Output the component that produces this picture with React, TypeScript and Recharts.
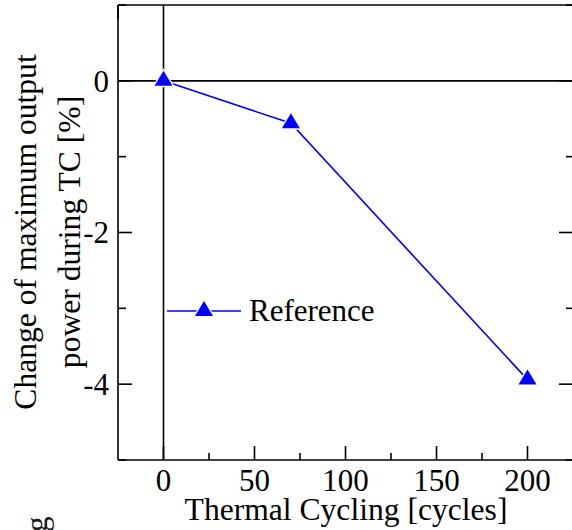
import React from 'react';
import { LineChart, Line, XAxis, YAxis, ReferenceLine, Legend, Label } from 'recharts';

const cycles = [0, 70, 200];
const powerChange = [0, -0.56, -3.94];
const seriesName = 'Reference';
const xMajorTicks = [0, 50, 100, 150, 200];
const xMinorTicks = [25, 75, 125, 175];
const yMajorTicks = [0, -2, -4];
const yMinorTicks = [1, -1, -3, -5];
const xTitle = 'Thermal Cycling [cycles]';
const yTitleLines = ['Change of maximum output', 'power during TC [%]'];
const strayFragment = 'g';

const data = cycles.map((c, i) => ({ cycles: c, change: powerChange[i] }));
const xTicks = [...xMajorTicks, ...xMinorTicks].sort((a, b) => a - b);
const yTicks = [...yMajorTicks, ...yMinorTicks].sort((a, b) => a - b);

const FONT = '"Liberation Serif", "Times New Roman", serif';
const FS = 31;
const TFS = 31.6;
const BLUE = '#0000ff';
const SW = 1.6;

const Tri = ({ cx, cy }: any) => {
  if (cx == null || cy == null) return null;
  return (
    <g>
      <path d={`M${cx},${cy - 12.5} L${cx + 11.5},${cy + 6.5} L${cx - 11.5},${cy + 6.5}Z`} fill="#fff" />
      <path d={`M${cx},${cy - 10} L${cx + 9},${cy + 5} L${cx - 9},${cy + 5}Z`} fill={BLUE} />
    </g>
  );
};

const BottomTick = ({ x, y, payload }: any) => {
  const major = xMajorTicks.includes(payload.value);
  return (
    <g>
      <line x1={x} x2={x} y1={y} y2={y - (major ? 14 : 7)} stroke="#000" strokeWidth={SW} />
      {major && (
        <text x={x} y={y + 31} textAnchor="middle" fontFamily={FONT} fontSize={FS} fill="#000">
          {String(payload.value)}
        </text>
      )}
    </g>
  );
};

const TopTick = ({ x, y, payload }: any) => {
  const major = xMajorTicks.includes(payload.value);
  return <line x1={x} x2={x} y1={y} y2={y + (major ? 14 : 7)} stroke="#000" strokeWidth={SW} />;
};

const LeftTick = ({ x, y, payload }: any) => {
  const major = yMajorTicks.includes(payload.value);
  return (
    <g>
      <line x1={x} x2={x + (major ? 14 : 8)} y1={y} y2={y} stroke="#000" strokeWidth={SW} />
      {major && (
        <text x={x - 9} y={y} dy="0.35em" textAnchor="end" fontFamily={FONT} fontSize={FS} fill="#000">
          {String(payload.value)}
        </text>
      )}
    </g>
  );
};

const RightTick = ({ x, y, payload }: any) => {
  const major = yMajorTicks.includes(payload.value);
  return <line x1={x} x2={x - (major ? 14 : 7)} y1={y} y2={y} stroke="#000" strokeWidth={SW} />;
};

const LegendContent = () => (
  <svg width={240} height={40} style={{ display: 'block', overflow: 'visible' }}>
    <line x1={7} x2={81} y1={21} y2={21} stroke={BLUE} strokeWidth={SW} />
    <Tri cx={44} cy={21} />
    <text x={89} y={31} fontFamily={FONT} fontSize={FS} fill="#000">
      {seriesName}
    </text>
  </svg>
);

const YTitle = () => (
  <g>
    <text
      x={36}
      y={232}
      transform="rotate(-90, 36, 232)"
      textAnchor="middle"
      fontFamily={FONT}
      fontSize={TFS}
      fill="#000"
    >
      {yTitleLines[0]}
    </text>
    <text
      x={80}
      y={232}
      transform="rotate(-90, 80, 232)"
      textAnchor="middle"
      fontFamily={FONT}
      fontSize={TFS}
      fill="#000"
    >
      {yTitleLines[1]}
    </text>
    <text x={47} y={532} transform="rotate(-90, 47, 532)" fontFamily={FONT} fontSize={FS} fill="#1a1a1a">
      {strayFragment}
    </text>
  </g>
);

const XTitle = () => (
  <text x={346} y={520} textAnchor="middle" fontFamily={FONT} fontSize={TFS} fill="#000">
    {xTitle}
  </text>
);

export default function App() {
  return (
    <div
      style={{
        position: 'absolute',
        left: 0,
        top: 0,
        width: 572,
        height: 530,
        overflow: 'hidden',
        background: '#fff',
      }}
    >
      <LineChart width={580} height={530} data={data} margin={{ top: 0, right: 0, bottom: 0, left: 0 }}>
        <XAxis
          xAxisId="b"
          dataKey="cycles"
          type="number"
          domain={[-25, 225]}
          ticks={xTicks}
          interval={0}
          height={70}
          tickSize={0}
          tickMargin={0}
          tickLine={false}
          tick={<BottomTick />}
          axisLine={{ stroke: '#000', strokeWidth: SW }}
          allowDataOverflow
        >
          <Label content={<XTitle />} />
        </XAxis>
        <XAxis
          xAxisId="t"
          orientation="top"
          type="number"
          domain={[-25, 225]}
          ticks={xTicks}
          interval={0}
          height={5}
          tickSize={0}
          tickMargin={0}
          tickLine={false}
          tick={<TopTick />}
          axisLine={{ stroke: '#000', strokeWidth: SW }}
          allowDataOverflow
        />
        <YAxis
          yAxisId="l"
          type="number"
          domain={[-5, 1]}
          ticks={yTicks}
          interval={0}
          width={118}
          tickSize={0}
          tickMargin={0}
          tickLine={false}
          tick={<LeftTick />}
          axisLine={{ stroke: '#000', strokeWidth: SW }}
          allowDataOverflow
        >
          <Label content={<YTitle />} />
        </YAxis>
        <YAxis
          yAxisId="r"
          orientation="right"
          type="number"
          domain={[-5, 1]}
          ticks={yTicks}
          interval={0}
          width={7}
          tickSize={0}
          tickMargin={0}
          tickLine={false}
          tick={<RightTick />}
          axisLine={{ stroke: '#000', strokeWidth: SW }}
          allowDataOverflow
        />
        <ReferenceLine xAxisId="b" yAxisId="l" x={0} stroke="#000" strokeWidth={SW} />
        <ReferenceLine xAxisId="b" yAxisId="l" y={0} stroke="#000" strokeWidth={SW} />
        <Line
          xAxisId="b"
          yAxisId="l"
          type="linear"
          dataKey="change"
          name={seriesName}
          stroke={BLUE}
          strokeWidth={SW}
          dot={<Tri />}
          activeDot={false}
          isAnimationActive={false}
        />
        <Legend
          layout="horizontal"
          verticalAlign="middle"
          align="center"
          content={<LegendContent />}
          wrapperStyle={{ position: 'absolute', left: 160, top: 290, width: 240, height: 40, bottom: 'auto', right: 'auto' }}
        />
      </LineChart>
    </div>
  );
}
